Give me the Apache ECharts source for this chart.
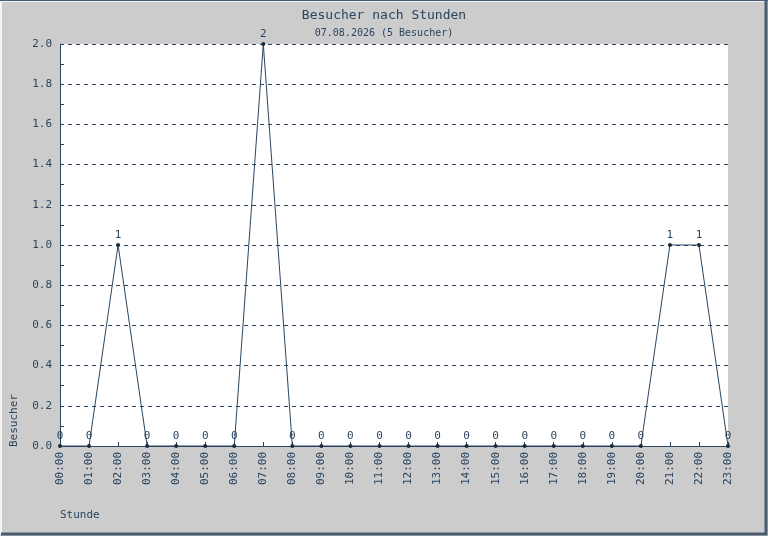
<!DOCTYPE html>
<html lang="de">
  <head>
    <meta charset="UTF-8" />
    <title>Besucher nach Stunden</title>
    <style>
      html, body { margin: 0; padding: 0; background: #cccccc; }
      #main { width: 768px; height: 536px; }
    </style>
  </head>
  <body>
    <div id="main"></div>
  </body>
  <script src="https://cdn.jsdelivr.net/npm/echarts@6/dist/echarts.min.js"></script>
  <script>
    /* globals echarts */
    var hours = ["00:00", "01:00", "02:00", "03:00", "04:00", "05:00", "06:00", "07:00",
      "08:00", "09:00", "10:00", "11:00", "12:00", "13:00", "14:00", "15:00",
      "16:00", "17:00", "18:00", "19:00", "20:00", "21:00", "22:00", "23:00"];
    var visitors = [0, 0, 1, 0, 0, 0, 0, 2, 0, 0, 0, 0, 0, 0, 0, 0, 0, 0, 0, 0, 0, 1, 1, 0];

    var ink = "#2a4560";
    var mono = "DejaVu Sans Mono";

    var chart = echarts.init(document.getElementById("main"));

    chart.setOption({
      backgroundColor: "#cccccc",
      animation: false,
      title: {
        text: "Besucher nach Stunden",
        subtext: "07.08.2026 (5 Besucher)",
        left: "center",
        top: 4,
        itemGap: 6,
        textStyle: { fontFamily: mono, fontSize: 13, fontWeight: "normal", color: ink },
        subtextStyle: { fontFamily: mono, fontSize: 10, color: ink }
      },
      grid: {
        left: 60,
        right: 40,
        top: 44,
        bottom: 90,
        show: true,
        backgroundColor: "#ffffff",
        borderWidth: 0
      },
      graphic: [
        {
          type: "polyline",
          shape: { points: [[1, 535], [1, 1], [767, 1]] },
          style: { stroke: "#f4f4f4", lineWidth: 2, fill: null }
        },
        {
          type: "polyline",
          shape: { points: [[1, 534], [766, 534], [766, 1]] },
          style: { stroke: "#4a5d70", lineWidth: 3, fill: null }
        },
        {
          type: "line",
          shape: { x1: 0, y1: 0.5, x2: 768, y2: 0.5 },
          style: { stroke: "#4a5d70", lineWidth: 1 }
        },
        {
          type: "text",
          left: 60,
          top: 510,
          style: { text: "Stunde", fontFamily: mono, fontSize: 11, fill: ink }
        },
        {
          type: "text",
          x: 9,
          y: 447,
          rotation: Math.PI / 2,
          style: { text: "Besucher", fontFamily: mono, fontSize: 11, fill: ink }
        }
      ],
      xAxis: {
        type: "category",
        data: hours,
        boundaryGap: false,
        axisLine: { lineStyle: { color: ink, width: 1 } },
        axisTick: { show: true, inside: true, length: 4, interval: 0, lineStyle: { color: ink } },
        axisLabel: {
          interval: 0,
          rotate: 90,
          margin: 6,
          fontFamily: mono,
          fontSize: 11,
          color: ink
        },
        splitLine: { show: false }
      },
      yAxis: {
        type: "value",
        min: 0,
        max: 2,
        interval: 0.2,
        axisLine: { show: true, lineStyle: { color: ink, width: 1 } },
        axisTick: { show: true, inside: true, length: 4, lineStyle: { color: ink } },
        minorTick: { show: true, splitNumber: 2, length: 4, lineStyle: { color: ink } },
        axisLabel: {
          margin: 8,
          fontFamily: mono,
          fontSize: 11,
          color: ink,
          formatter: function (v) { return v.toFixed(1); }
        },
        splitLine: { show: true, lineStyle: { color: ink, type: [4, 4], width: 1 } }
      },
      series: [
        {
          name: "Besucher",
          type: "line",
          data: visitors,
          symbol: "circle",
          symbolSize: 4,
          itemStyle: { color: "#1a2a3a" },
          lineStyle: { color: ink, width: 1 },
          label: {
            show: true,
            position: "top",
            distance: 2,
            fontFamily: mono,
            fontSize: 11,
            color: ink
          }
        }
      ]
    });
  </script>
</html>
